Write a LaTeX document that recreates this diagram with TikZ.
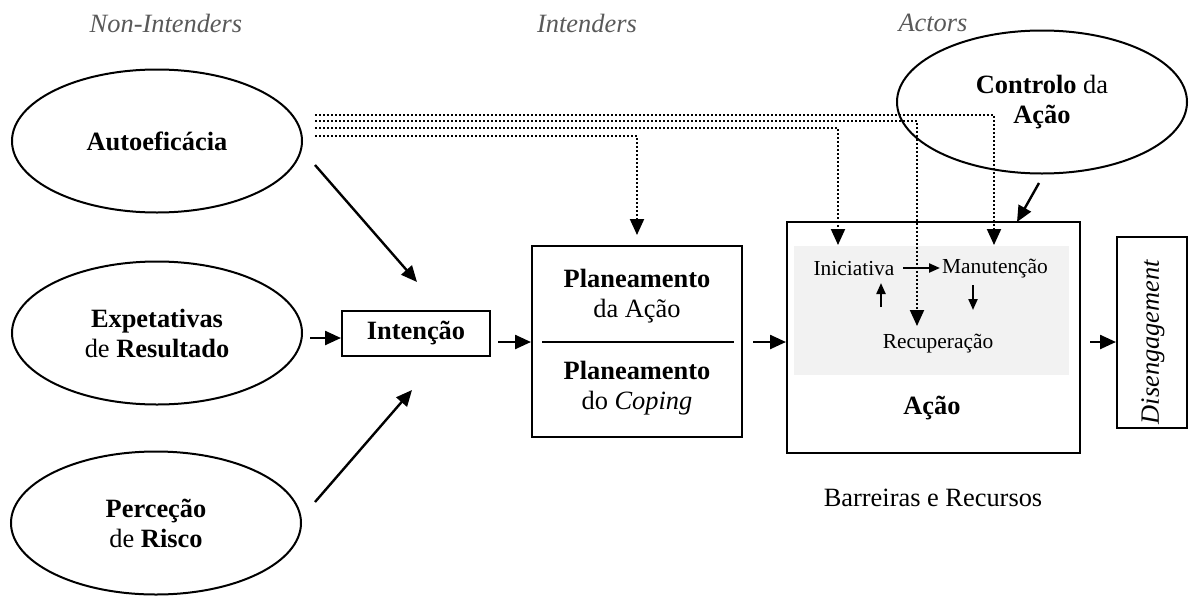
\documentclass[tikz,border=0pt]{standalone}
\usepackage{fontspec}
\setmainfont{Liberation Serif}
\usetikzlibrary{arrows.meta,shapes.geometric}
\definecolor{titlegrey}{HTML}{595959}
\definecolor{panelgrey}{HTML}{F2F2F2}
\begin{document}
\begin{tikzpicture}[x=0.5pt,y=-0.5pt,
  big/.style={font=\fontsize{13.2pt}{15pt}\selectfont},
  small/.style={font=\fontsize{10.7pt}{12pt}\selectfont},
  stage/.style={font=\fontsize{13.2pt}{15pt}\selectfont\itshape, text=titlegrey},
  oval/.style={draw, ellipse, line width=1pt, minimum width=145pt, minimum height=71.5pt, inner sep=0pt, align=center, big},
  frame/.style={draw, line width=1.2pt, inner sep=0pt},
  arr/.style={line width=1.2pt, -{Triangle[length=8pt,width=7pt]}},
  minarr/.style={line width=1.1pt, -{Triangle[length=5.5pt,width=4.5pt]}},
  dots/.style={line width=1pt, dash pattern=on 0.9pt off 1.1pt},
  dotarr/.style={dots, -{Triangle[length=8pt,width=7pt]}}
]
\useasboundingbox (0,0) rectangle (1189,595);

% stage headings
\node[stage] (hnon) at (166,23) {Non-Intenders};
\node[stage] (hint) at (587,23) {Intenders};
\node[stage] (hact) at (933,23) {Actors};

% social-cognitive predictors
\node[oval] (auto) at (157,141) {\textbf{Autoeficácia}};
\node[oval] (expe) at (157,333) {\textbf{Expetativas}\\de \textbf{Resultado}};
\node[oval] (risk) at (156,523) {\textbf{Perceção}\\de \textbf{Risco}};
\node[oval] (ctrl) at (1042,102) {\textbf{Controlo} da\\\textbf{Ação}};

% intention
\node[frame, minimum width=74pt, minimum height=22.5pt, big] (inte) at (416,333.5) {\textbf{Intenção}};

% planning
\node[frame, minimum width=105pt, minimum height=95.5pt] (plan) at (637,341.5) {};
\node[big, align=center] (planA) at (637,296) {\textbf{Planeamento}\\da Ação};
\node[big, align=center] (planC) at (637,388) {\textbf{Planeamento}\\do \textit{Coping}};
\draw[line width=1pt] (542,342) -- (734,342);

% action
\node[frame, minimum width=146.5pt, minimum height=115.5pt] (acao) at (933.5,337.5) {};
\node[fill=panelgrey, minimum width=137.5pt, minimum height=64.5pt, inner sep=0pt] (panel) at (931.5,310.5) {};
\node[small] (inic) at (854,269) {Iniciativa};
\node[small] (manu) at (995,269) {Manutenção};
\node[small] (recu) at (938,344) {Recuperação};
\node[big] (acaot) at (932,408) {\textbf{Ação}};
\node[big] (barr) at (933,498) {Barreiras e Recursos};

% disengagement
\node[frame, minimum width=35pt, minimum height=95.5pt] (dise) at (1152,332.5) {};
\node[big, rotate=90] (diset) at (1153,342) {\textit{Disengagement}};

% connector end points
\coordinate (a1s) at (315,165);  \coordinate (a1e) at (417,282);
\coordinate (a2s) at (315,502);  \coordinate (a2e) at (412,390);
\coordinate (h1s) at (310,338);  \coordinate (h1e) at (341,338);
\coordinate (h2s) at (498,342);  \coordinate (h2e) at (531,342);
\coordinate (h3s) at (753,342);  \coordinate (h3e) at (786,342);
\coordinate (h4s) at (1090,342); \coordinate (h4e) at (1116,342);
\coordinate (cs) at (1039,183);  \coordinate (ce) at (1017,222);

% main flow
\draw[arr] (a1s) -- (a1e);
\draw[arr] (a2s) -- (a2e);
\draw[arr] (h1s) -- (h1e);
\draw[arr] (h2s) -- (h2e);
\draw[arr] (h3s) -- (h3e);
\draw[arr] (h4s) -- (h4e);
\draw[arr] (cs) -- (ce);

% self-efficacy feeds every later stage
\coordinate (d1) at (315,115); \coordinate (t1) at (994,245);
\coordinate (d2) at (315,121); \coordinate (t2) at (917,326);
\coordinate (d3) at (315,128); \coordinate (t3) at (838,245);
\coordinate (d4) at (315,136); \coordinate (t4) at (637,235);
\draw[dotarr] (d1) -| (t1);
\draw[dotarr] (d2) -| (t2);
\draw[dotarr] (d3) -| (t3);
\draw[dotarr] (d4) -| (t4);

% cycle inside the action phase
\coordinate (i1s) at (903,268); \coordinate (i1e) at (940,268);
\coordinate (i2s) at (881,307); \coordinate (i2e) at (881,283);
\coordinate (i3s) at (973,285); \coordinate (i3e) at (973,310);
\draw[minarr] (i1s) -- (i1e);
\draw[minarr] (i2s) -- (i2e);
\draw[minarr] (i3s) -- (i3e);
\end{tikzpicture}
\end{document}
